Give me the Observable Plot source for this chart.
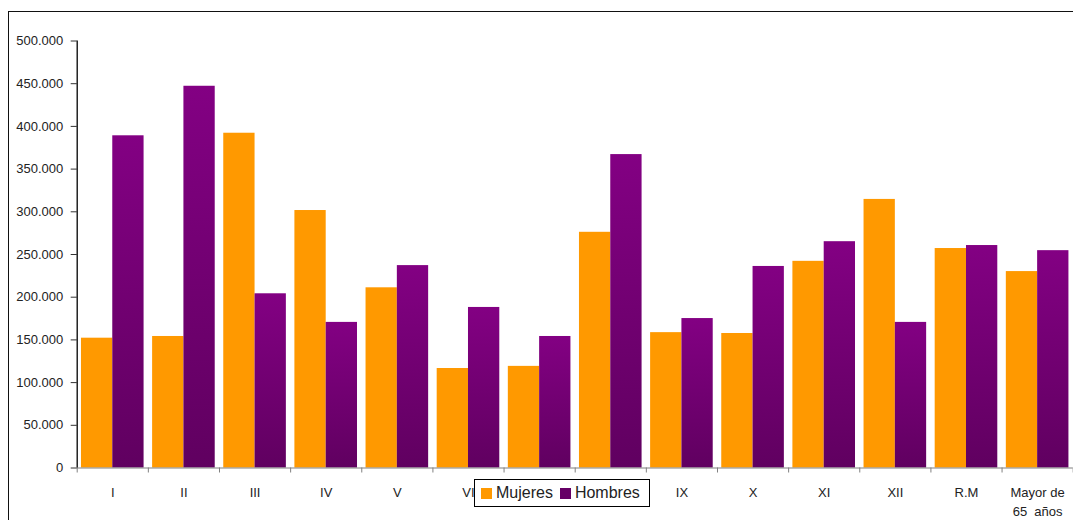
<!DOCTYPE html>
<html>
<head>
<meta charset="utf-8">
<script src="https://cdn.jsdelivr.net/npm/d3@7"></script>
<script src="https://cdn.jsdelivr.net/npm/@observablehq/plot@0.6"></script>
<style>
  html, body { margin: 0; padding: 0; background: #fff; }
  #wrap { position: relative; width: 1073px; height: 520px; overflow: hidden; font-family: "Liberation Sans", Arial, sans-serif; }
  #frame { position: absolute; left: 8px; top: 11px; width: 1080px; height: 530px; border-left: 1.5px solid #111; border-top: 1.5px solid #111; pointer-events: none; }
  #legend { position: absolute; left: 474px; top: 479px; width: 176px; height: 28px; border: 1px solid #000; background: #fff; display: flex; align-items: center; font-size: 16px; color: #222; box-sizing: border-box; padding-left: 6px; }
  #legend .sw { width: 11px; height: 11px; display: inline-block; margin-right: 4px; }
  #legend .item { display: flex; align-items: center; margin-right: 7px; }
  svg { position: absolute; left: 0; top: 0; }
</style>
</head>
<body>
<div id="wrap">
  <div id="chart"></div>
  <div id="frame"></div>
  <div id="legend"></div>
</div>
<script>
const categories = ["I", "II", "III", "IV", "V", "VI", "VII", "VIII", "IX", "X", "XI", "XII", "R.M", "Mayor de\n65  años"];
const mujeres = [152000, 154000, 392000, 301500, 211000, 116500, 119000, 276000, 158500, 157500, 242000, 314500, 257000, 230000];
const hombres = [389000, 447000, 204000, 170500, 237000, 188000, 154000, 367000, 175000, 236000, 265000, 170500, 260500, 254500];
const seriesNames = ["Mujeres", "Hombres"];
const yTicks = [0, 50000, 100000, 150000, 200000, 250000, 300000, 350000, 400000, 450000, 500000];

const orange = "#ff9900";
const purpleTop = "#830083";
const purpleBottom = "#600060";

const rows = [];
categories.forEach((c, i) => {
  rows.push({cat: c, i, serie: "Mujeres", value: mujeres[i]});
  rows.push({cat: c, i, serie: "Hombres", value: hombres[i]});
});
const labelRows = categories.map((c, i) => ({cat: c, i}));

const fmt = d3.formatLocale({decimal: ",", thousands: ".", grouping: [3], currency: ["", ""]}).format(",d");

const defs = () => {
  const d = d3.create("svg:defs");
  const g = d.append("linearGradient").attr("id", "hgrad").attr("x1", 0).attr("y1", 0).attr("x2", 0).attr("y2", 1);
  g.append("stop").attr("offset", "0%").attr("stop-color", purpleTop);
  g.append("stop").attr("offset", "100%").attr("stop-color", purpleBottom);
  return d.node();
};

const chart = Plot.plot({
  width: 1073,
  height: 520,
  marginLeft: 76.7,
  marginRight: 0.3,
  marginTop: 40.5,
  marginBottom: 52.5,
  style: {fontFamily: "'Liberation Sans', Arial, sans-serif", fontSize: "13px", color: "#222", background: "transparent", overflow: "visible"},
  x: {domain: [0, categories.length], axis: null, label: null},
  y: {domain: [0, 500000], axis: null, label: null},
  marks: [
    defs,
    Plot.rectY(rows.filter(d => d.serie === "Mujeres"), {x1: d => d.i + 0.06, x2: d => d.i + 0.5, y1: 0, y2: "value", fill: orange}),
    Plot.rectY(rows.filter(d => d.serie === "Hombres"), {x1: d => d.i + 0.5, x2: d => d.i + 0.94, y1: 0, y2: "value", fill: "url(#hgrad)"}),
    Plot.ruleY([0], {stroke: "#808080", strokeWidth: 1.2}),
    Plot.axisX(d3.range(0, categories.length + 1), {tickSize: 5, tickFormat: () => "", stroke: "#808080", anchor: "bottom", label: null}),
    Plot.text(labelRows, {x: d => d.i + 0.5, text: "cat", frameAnchor: "bottom", lineAnchor: "top", dy: 16, lineHeight: 1.46, fontSize: 13, fill: "#222"}),
    Plot.axisY(yTicks, {tickSize: 6, tickPadding: 8, tickFormat: fmt, stroke: "#333", fill: "#222", fontSize: 13, label: null}),
    Plot.ruleX([0], {stroke: "#000", strokeWidth: 1.3})
  ]
});
document.getElementById("chart").appendChild(chart);

const legend = d3.select("#legend");
[[seriesNames[0], orange], [seriesNames[1], "#660066"]].forEach(([name, col]) => {
  const it = legend.append("div").attr("class", "item");
  it.append("span").attr("class", "sw").style("background", col);
  it.append("span").text(name);
});
</script>
</body>
</html>
